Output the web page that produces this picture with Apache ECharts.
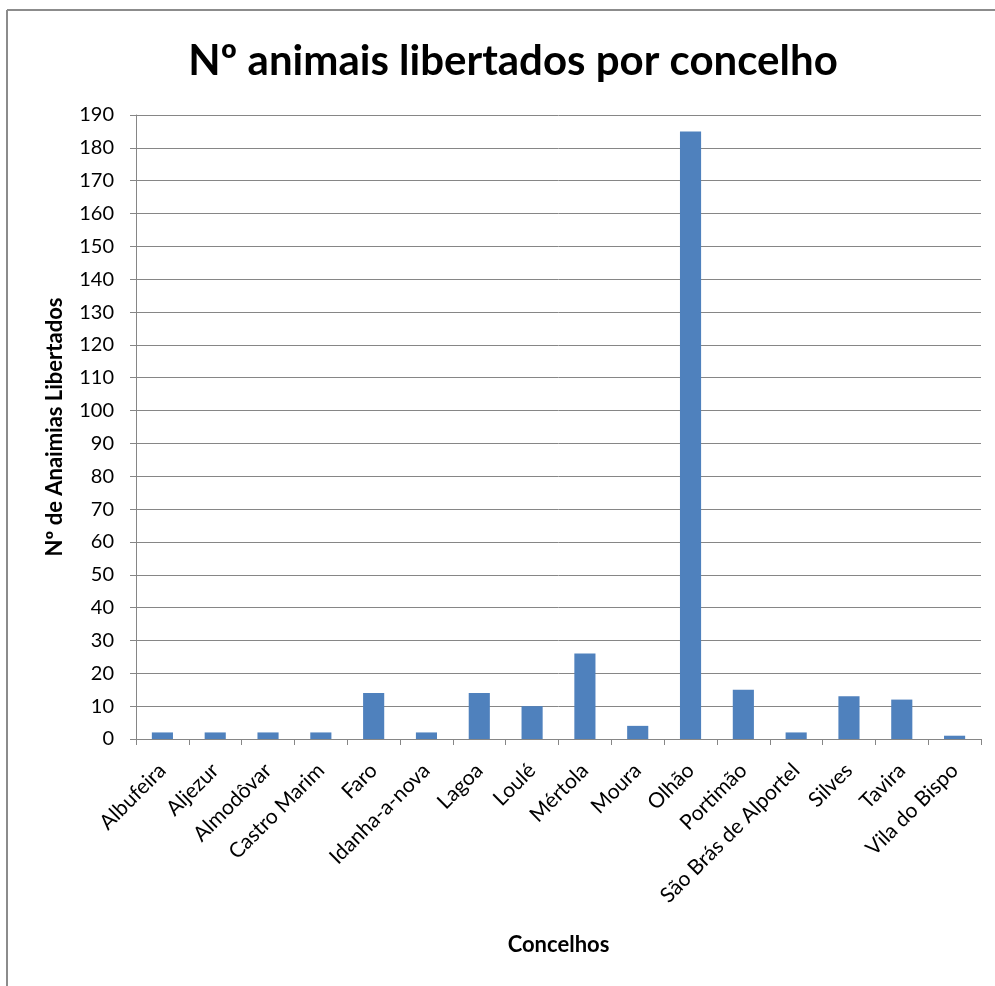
<!DOCTYPE html>
<html>
<head>
<meta charset="utf-8">
<script src="https://cdn.jsdelivr.net/npm/echarts@6/dist/echarts.min.js"></script>
<style>
html,body{margin:0;padding:0;background:#fff;}
#chart{width:995px;height:986px;}
</style>
</head>
<body>
<div id="chart"></div>
<script>
const categories = ["Albufeira","Aljezur","Almodôvar","Castro Marim","Faro","Idanha-a-nova","Lagoa","Loulé","Mértola","Moura","Olhão","Portimão","São Brás de Alportel","Silves","Tavira","Vila do Bispo"];
const values = [2,2,2,2,14,2,14,10,26,4,185,15,2,13,12,1];
const yMin = 0, yMax = 190, yStep = 10;
const titleText = "Nº animais libertados por concelho";
const yName = "Nº de Anaimias Libertados";
const xName = "Concelhos";

const chart = echarts.init(document.getElementById('chart'), null, {renderer:'canvas'});
const font = 'Lato, "Open Sans", sans-serif';
chart.setOption({
  animation:false,
  backgroundColor:'#fff',
  title:{
    text:titleText, left:508, top:35, textAlign:'center',
    textStyle:{fontFamily:font, fontWeight:'bold', fontSize:42, color:'#000'}
  },
  graphic:[
    {type:'line', shape:{x1:7,y1:1000,x2:7,y2:10}, style:{stroke:'#8c8c8c', lineWidth:2}},
    {type:'line', shape:{x1:7,y1:10,x2:1000,y2:10}, style:{stroke:'#8c8c8c', lineWidth:2}}
  ],
  grid:{left:136, right:14, top:115, bottom:247, containLabel:false},
  xAxis:{
    type:'category', data:categories, boundaryGap:true,
    name:xName, nameLocation:'middle', nameGap:195,
    nameTextStyle:{fontFamily:font, fontWeight:'bold', fontSize:22, color:'#000'},
    axisLine:{lineStyle:{color:'#868686', width:1}},
    axisTick:{show:true, alignWithLabel:false, length:6, lineStyle:{color:'#868686'}},
    axisLabel:{rotate:45, interval:0, margin:28, fontFamily:font, fontSize:21, color:'#000'}
  },
  yAxis:{
    type:'value', min:yMin, max:yMax, interval:yStep,
    name:yName, nameLocation:'middle', nameGap:70, nameRotate:90,
    nameTextStyle:{fontFamily:font, fontWeight:'bold', fontSize:22, color:'#000'},
    axisLine:{show:true, lineStyle:{color:'#868686', width:1}},
    axisTick:{show:true, inside:false, length:6, lineStyle:{color:'#868686'}},
    axisLabel:{margin:22, fontFamily:font, fontSize:20, color:'#000'},
    splitLine:{show:true, lineStyle:{color:'#868686', width:1}}
  },
  series:[{
    type:'bar', data:values, barWidth:'40%',
    itemStyle:{color:'#4f81bd'}
  }]
});
</script>
</body>
</html>
